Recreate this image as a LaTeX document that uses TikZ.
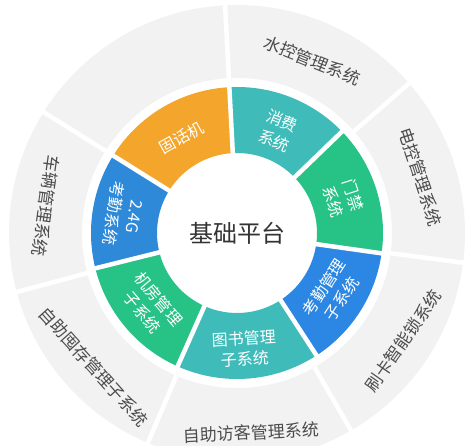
\documentclass[tikz,border=0pt]{standalone}
\usepackage{fontspec}
\setmainfont{Noto Sans CJK SC}
\definecolor{ringgray}{HTML}{F2F2F2}
\definecolor{phoneorange}{HTML}{F4A52B}
\definecolor{tealcol}{HTML}{3FBCB9}
\definecolor{greencol}{HTML}{27C286}
\definecolor{bluecol}{HTML}{2C87E4}
\definecolor{blueleft}{HTML}{2E89D9}
\colorlet{outtext}{black!70}
\colorlet{midtext}{black!80}

\begin{document}
\begin{tikzpicture}[x=1pt,y=1pt,
  inlabel/.style={text=white,font=\fontsize{16}{21}\selectfont,align=center,inner sep=0},
  outlabel/.style={text=outtext,font=\fontsize{17}{20}\selectfont,inner sep=0},
  gapline/.style={white,line width=4.5}]
  \useasboundingbox (0,0) rectangle (474,446);
  \coordinate (O) at (237,213);

  \begin{scope}[shift={(O)}]
  % outer grey ring
  \fill[ringgray,even odd rule]
    (0,0) circle (228) (0,0) circle (155);
  \foreach \a in {93,148,195,247,300,352.5,41}
    \draw[gapline] (\a:150) -- (\a:235);

  % inner coloured ring
  \foreach \a/\b/\c in {93/148/phoneorange, 44/93/tealcol, -8/44/greencol,
      -57/-8/bluecol, -114/-57/tealcol, -166/-114/greencol, 148/194/blueleft}
    \fill[\c] (\a:80) arc[start angle=\a, end angle=\b, radius=80]
      -- (\b:146) arc[start angle=\b, end angle=\a, radius=146] -- cycle;
  \foreach \a in {93,148,194,246,303,352,44}
    \draw[gapline] (\a:76) -- (\a:150);

  \node[font=\fontsize{24}{28}\selectfont,text=midtext] (jichu) at (0,0) {基础平台};

  \node[inlabel,rotate=29] (guhuaji) at (120:110) {固话机};
  \node[inlabel,rotate=-22] (xiaofei) at (68:110) {消费\\系统};
  \node[inlabel,rotate=-72] (menjin) at (18:112) {门禁\\系统};
  \node[inlabel,rotate=57] (kaoqin) at (-32:113) {考勤管理\\子系统};
  \node[inlabel,rotate=3] (tushu) at (-86:116) {图书管理\\子系统};
  \node[inlabel,rotate=-50] (jifang) at (-140:113) {机房管理\\子系统};
  \node[inlabel,rotate=-99] (kaoqinG) at (171:115) {2.4G\\考勤系统};

  \node[outlabel,rotate=-22] (shuikong) at (66.5:188) {水控管理系统};
  \node[outlabel,rotate=-72] (diankong) at (17:192) {电控管理系统};
  \node[outlabel,rotate=55] (shuaka) at (-33:198) {刷卡智能锁系统};
  \node[outlabel,rotate=3] (fangke) at (-86:200) {自助访客管理系统};
  \node[outlabel,rotate=-48] (jicun) at (-137:196) {自助囤存管理子系统};
  \node[outlabel,rotate=-98] (cheliang) at (172:193) {车辆管理系统};
  \end{scope}
\end{tikzpicture}
\end{document}
